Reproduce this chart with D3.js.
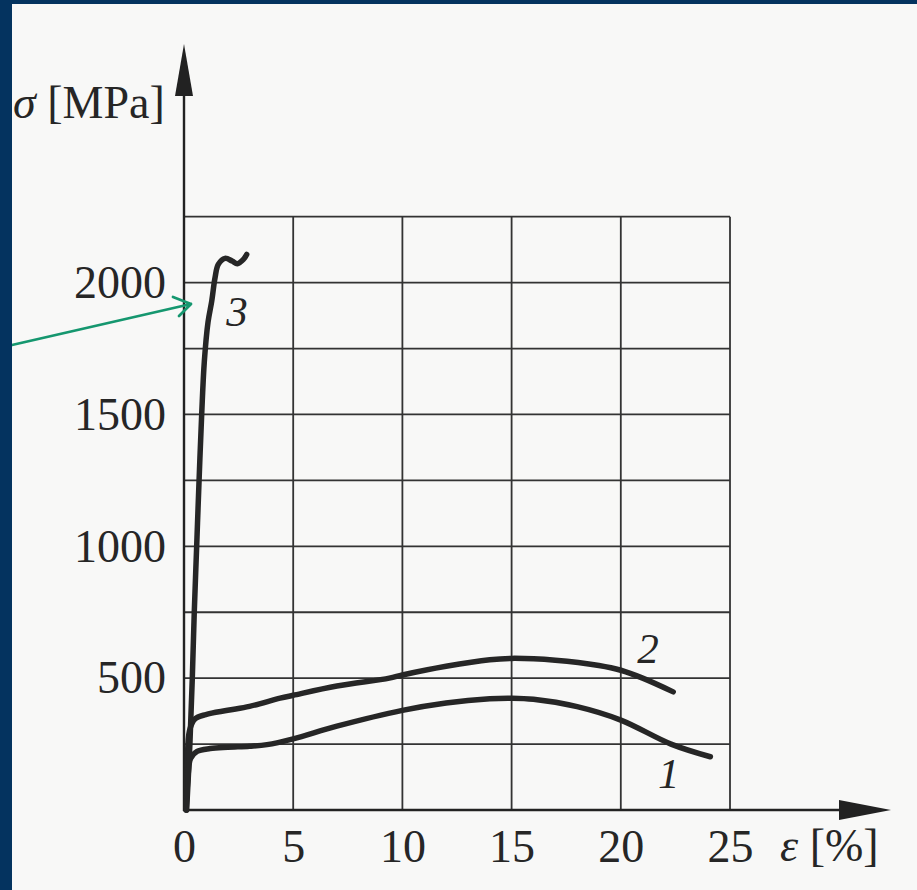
<!DOCTYPE html>
<html>
<head>
<meta charset="utf-8">
<script src="https://cdn.jsdelivr.net/npm/d3@7/dist/d3.min.js"></script>
<style>
  html, body { margin: 0; padding: 0; background: #f8f8f7; }
  svg { display: block; }
  text { font-family: "Liberation Serif", "DejaVu Serif", serif; fill: #262626; }
</style>
</head>
<body>
<div id="chart"></div>
<script>
// strain ε [%] vs stress σ [MPa], three materials
const curve1 = [[0.1,0],[0.18,120],[0.3,195],[0.6,222],[1.2,233],[2,238],[3,242],[3.8,248],[5,270],[7,318],[10,378],[12,406],[14,422],[15,424],[16,420],[18,392],[20,341],[22.3,250],[24.1,202]];
const curve2 = [[0.1,0],[0.15,180],[0.25,300],[0.5,345],[1,362],[2,378],[3,393],[4.4,424],[5,435],[7,470],[9.4,500],[10,512],[12,545],[14,570],[15,575],[17,568],[19,548],[20,530],[21,500],[22.4,448]];
const curve3 = [[0.12,0],[0.27,250],[0.38,500],[0.47,750],[0.58,1000],[0.69,1250],[0.81,1500],[0.93,1700],[1.1,1850],[1.27,1930],[1.42,2018],[1.57,2069],[1.88,2092],[2.2,2082],[2.44,2072],[2.72,2088],[2.87,2107]];
const curves = [curve1, curve2, curve3];

const xTicks = [0, 5, 10, 15, 20, 25];
const yLabels = [500, 1000, 1500, 2000];
const yGrid = [250, 500, 750, 1000, 1250, 1500, 1750, 2000, 2250];
const curveNames = ["1", "2", "3"];
const namePos = [[22.2, 83], [21.25, 556], [2.43, 1836]];

const width = 917, height = 890;
const svg = d3.select("#chart").append("svg")
    .attr("width", width)
    .attr("height", height);

svg.append("rect").attr("width", width).attr("height", height).attr("fill", "#f8f8f7");

const x = d3.scaleLinear().domain([0, 25]).range([184, 730]);
const y = d3.scaleLinear().domain([0, 2250]).range([810, 216.7]);

// grid
const grid = svg.append("g").attr("stroke", "#333").attr("stroke-width", 1.8);
grid.selectAll(".v").data(xTicks.slice(1)).join("line")
    .attr("x1", d => x(d)).attr("x2", d => x(d))
    .attr("y1", y(0)).attr("y2", y(2250));
grid.selectAll(".h").data(yGrid).join("line")
    .attr("x1", x(0)).attr("x2", x(25))
    .attr("y1", d => y(d)).attr("y2", d => y(d));

// axes with arrows
const ax = svg.append("g").attr("stroke", "#222").attr("stroke-width", 2.4);
ax.append("line").attr("x1", x(0)).attr("x2", x(0)).attr("y1", y(0) + 1).attr("y2", 60);
ax.append("line").attr("x1", x(0) - 1).attr("x2", 870).attr("y1", y(0)).attr("y2", y(0));
svg.append("path").attr("fill", "#222")
    .attr("d", `M${x(0)},44 L${x(0) - 9},96 L${x(0) + 9},96 Z`);
svg.append("path").attr("fill", "#222")
    .attr("d", `M891,${y(0)} L839,${y(0) - 10} L839,${y(0) + 10} Z`);

// tick labels
svg.append("g")
    .attr("transform", `translate(0,${y(0)})`)
    .call(d3.axisBottom(x).tickValues(xTicks).tickFormat(d3.format("d")).tickSize(0).tickPadding(19))
    .call(g => g.select(".domain").remove())
    .selectAll("text")
    .attr("font-size", 46).attr("fill", "#262626")
    .attr("font-family", "Liberation Serif");

svg.append("g")
    .attr("transform", `translate(${x(0)},0)`)
    .call(d3.axisLeft(y).tickValues(yLabels).tickFormat(d3.format("d")).tickSize(0).tickPadding(18))
    .call(g => g.select(".domain").remove())
    .selectAll("text")
    .attr("font-size", 46).attr("fill", "#262626")
    .attr("font-family", "Liberation Serif");

// axis titles
const yt = svg.append("text").attr("x", 13).attr("y", 118).attr("font-size", 46);
yt.append("tspan").attr("font-style", "italic").text("σ");
yt.append("tspan").text(" [MPa]");
const xt = svg.append("text").attr("x", 780).attr("y", 861).attr("font-size", 46);
xt.append("tspan").attr("font-style", "italic").text("ε");
xt.append("tspan").text(" [%]");

// curves
const line = d3.line()
    .x(d => x(d[0]))
    .y(d => y(d[1]))
    .curve(d3.curveCatmullRom.alpha(0.5));

svg.append("g").selectAll("path").data(curves).join("path")
    .attr("d", line)
    .attr("fill", "none")
    .attr("stroke", "#262626")
    .attr("stroke-width", 5.5)
    .attr("stroke-linecap", "round")
    .attr("stroke-linejoin", "round");

svg.append("g").selectAll("text").data(curveNames).join("text")
    .attr("x", (d, i) => x(namePos[i][0]))
    .attr("y", (d, i) => y(namePos[i][1]))
    .attr("text-anchor", "middle")
    .attr("font-size", 43)
    .attr("font-style", "italic")
    .text(d => d);

// green pointer
svg.append("path")
    .attr("d", "M12,345 L191,304 M173,297 L191,304 L179,316")
    .attr("fill", "none")
    .attr("stroke", "#15976f")
    .attr("stroke-width", 2.8)
    .attr("stroke-linecap", "round")
    .attr("stroke-linejoin", "round");

// navy frame
svg.append("rect").attr("x", 0).attr("y", 0).attr("width", 12).attr("height", height).attr("fill", "#04335f");
svg.append("rect").attr("x", 0).attr("y", 0).attr("width", width).attr("height", 4).attr("fill", "#04335f");
</script>
</body>
</html>
